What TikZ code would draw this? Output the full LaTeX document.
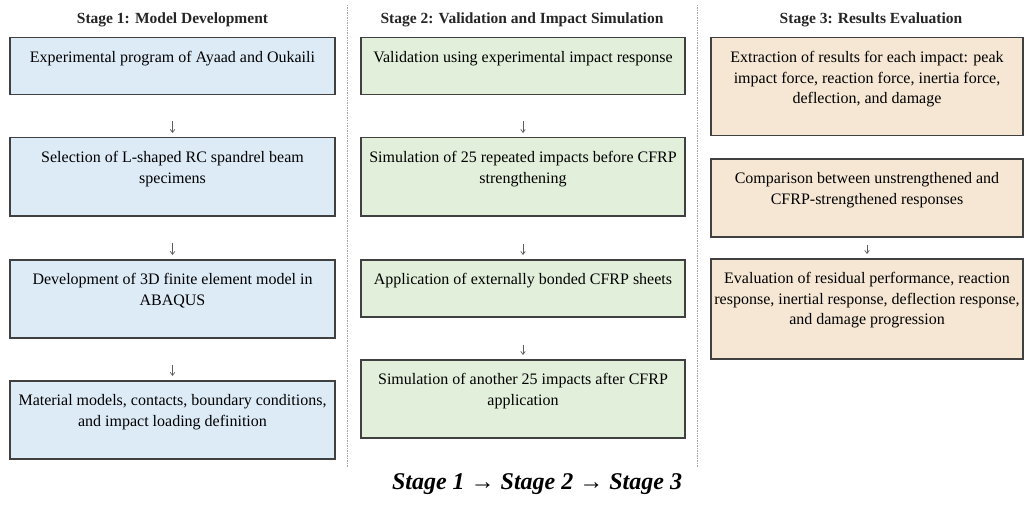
\documentclass[tikz,border=0pt]{standalone}
\usepackage{fontspec}
\setmainfont{Liberation Serif}
\usetikzlibrary{arrows.meta}
\definecolor{bluefill}{RGB}{221,235,247}
\definecolor{greenfill}{RGB}{226,239,218}
\definecolor{tanfill}{RGB}{245,231,211}
\definecolor{edgecol}{RGB}{64,64,64}
\definecolor{sepcol}{RGB}{165,165,165}
\definecolor{arrcol}{RGB}{95,95,95}
\definecolor{headcol}{RGB}{38,38,38}
\begin{document}
\begin{tikzpicture}[x=1pt,y=-1pt,
  box/.style={draw=edgecol, line width=1.5pt, minimum width=#1, inner sep=0pt, anchor=north},
  txt/.style={anchor=north, align=center, inner sep=0pt, text=black, font=\fontsize{16}{20.5}\selectfont},
  head/.style={font=\bfseries\fontsize{15.5}{18}\selectfont, text=headcol, inner sep=0pt},
  conn/.style={draw=arrcol, line width=0.7pt, -{Straight Barb[length=3pt,width=4.5pt]}, shorten >=4pt},
  sep/.style={draw=sepcol, line width=0.8pt, dash pattern=on 1.5pt off 1pt}]
\fill[white] (0,0) rectangle (1025,508);
\useasboundingbox (0,0) rectangle (1025,508);

% headers
\node[head] (h1) at (172.5,20) {Stage 1: Model Development};
\node[head] (h2) at (522,20) {Stage 2: Validation and Impact Simulation};
\node[head] (h3) at (871,20) {Stage 3: Results Evaluation};

% separators
\coordinate (s1t) at (347,5);  \coordinate (s1b) at (347,467);
\coordinate (s2t) at (697,5);  \coordinate (s2b) at (697,467);
\draw[sep] (s1t) -- (s1b);
\draw[sep] (s2t) -- (s2b);

% Stage 1
\node[box=325pt, minimum height=57pt, fill=bluefill] (a1) at (172.5,37) {};
\node[box=325pt, minimum height=78pt, fill=bluefill] (a2) at (172.5,137) {};
\node[box=325pt, minimum height=78pt, fill=bluefill] (a3) at (172.5,259) {};
\node[box=325pt, minimum height=78pt, fill=bluefill] (a4) at (172.5,380) {};
\node[txt] (a1t) at ([yshift=-14.5pt]a1.north) {Experimental program of Ayaad and Oukaili};
\node[txt] (a2t) at ([yshift=-14.5pt]a2.north) {Selection of L-shaped RC spandrel beam\\specimens};
\node[txt] (a3t) at ([yshift=-14.5pt]a3.north) {Development of 3D finite element model in\\ABAQUS};
\node[txt] (a4t) at ([yshift=-14.5pt]a4.north) {Material models, contacts, boundary conditions,\\and impact loading definition};
\draw[conn, shorten <=26pt] (a1) -- (a2);
\draw[conn, shorten <=26pt] (a2) -- (a3);
\draw[conn, shorten <=26pt] (a3) -- (a4);

% Stage 2
\node[box=324pt, minimum height=57pt, fill=greenfill] (b1) at (523,37) {};
\node[box=324pt, minimum height=78pt, fill=greenfill] (b2) at (523,137) {};
\node[box=324pt, minimum height=57pt, fill=greenfill] (b3) at (523,259) {};
\node[box=324pt, minimum height=78pt, fill=greenfill] (b4) at (523,359) {};
\node[txt] (b1t) at ([yshift=-14.5pt]b1.north) {Validation using experimental impact response};
\node[txt] (b2t) at ([yshift=-14.5pt]b2.north) {Simulation of 25 repeated impacts before CFRP\\strengthening};
\node[txt] (b3t) at ([yshift=-14.5pt]b3.north) {Application of externally bonded CFRP sheets};
\node[txt] (b4t) at ([yshift=-14.5pt]b4.north) {Simulation of another 25 impacts after CFRP\\application};
\draw[conn, shorten <=26pt] (b1) -- (b2);
\draw[conn, shorten <=27pt] (b2) -- (b3);
\draw[conn, shorten <=27pt] (b3) -- (b4);

% Stage 3
\node[box=312pt, minimum height=98pt, fill=tanfill] (c1) at (867,37) {};
\node[box=312pt, minimum height=78pt, fill=tanfill] (c2) at (867,158) {};
\node[box=312pt, minimum height=100pt, fill=tanfill] (c3) at (867,258) {};
\node[txt] (c1t) at ([yshift=-14.5pt]c1.north) {Extraction of results for each impact: peak\\impact force, reaction force, inertia force,\\deflection, and damage};
\node[txt] (c2t) at ([yshift=-14.5pt]c2.north) {Comparison between unstrengthened and\\CFRP-strengthened responses};
\node[txt] (c3t) at ([yshift=-14.5pt]c3.north) {Evaluation of residual performance, reaction\\response, inertial response, deflection response,\\and damage progression};
\draw[conn, shorten <=7pt] (c2) -- (c3);

% caption
\node[font=\bfseries\itshape\fontsize{24}{28}\selectfont, inner sep=0pt] (cap) at (537,484) {Stage 1 → Stage 2 → Stage 3};
\end{tikzpicture}
\end{document}
